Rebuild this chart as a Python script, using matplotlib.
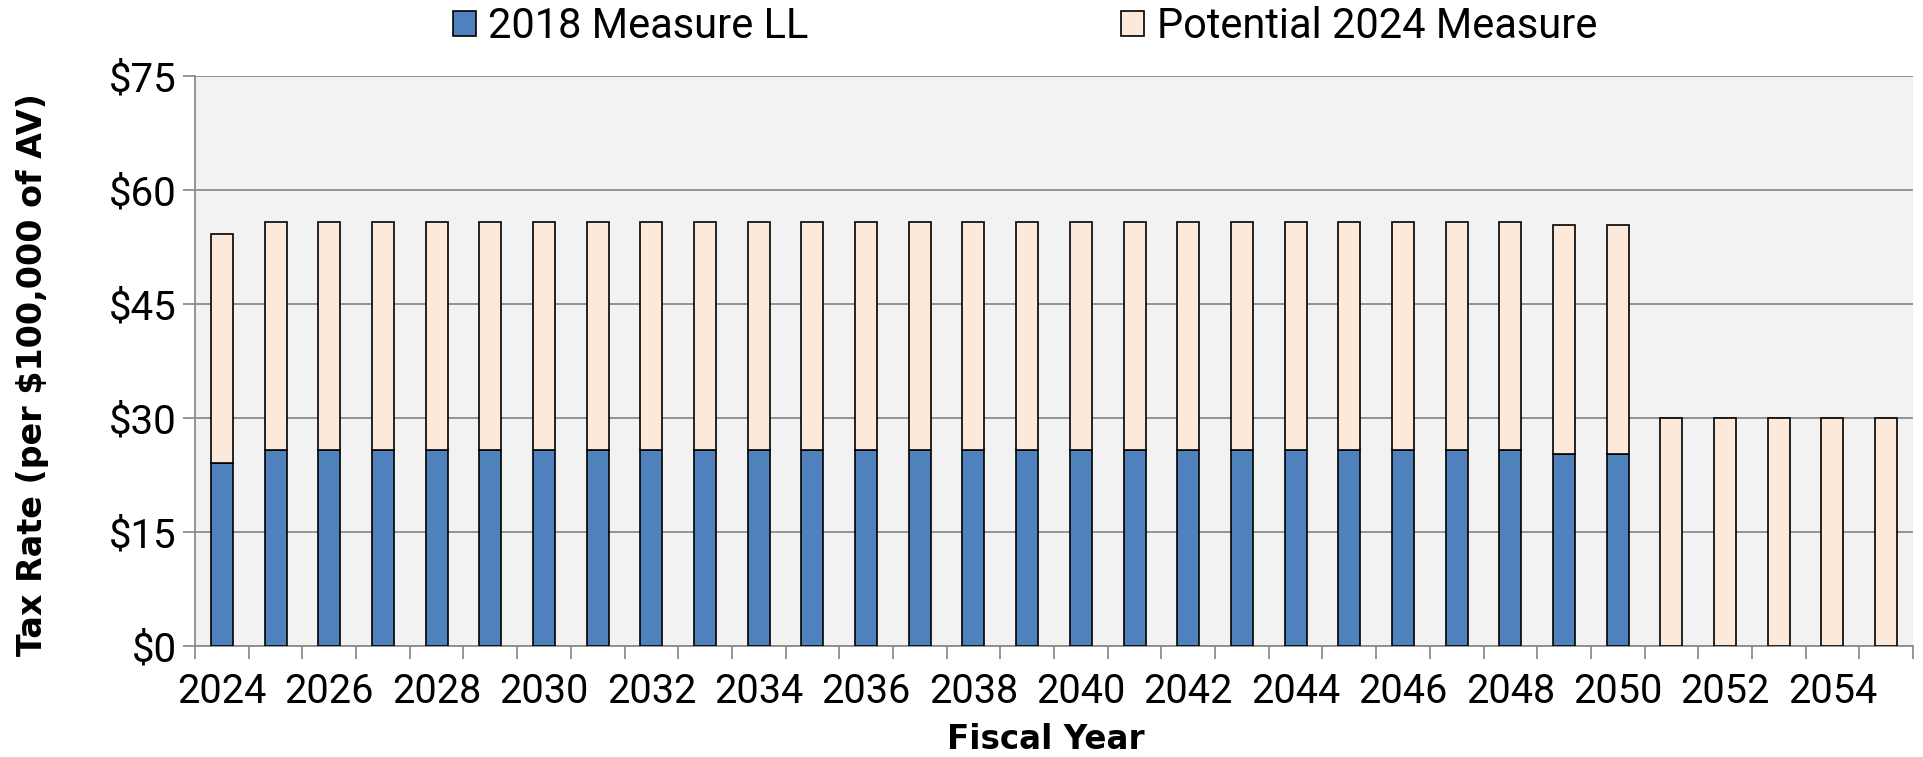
import matplotlib
matplotlib.use("Agg")
import matplotlib.pyplot as plt
from matplotlib.patches import Patch
import numpy as np

# Fiscal years and tax rate components (per $100,000 of assessed value)
years = list(range(2024, 2056))
measure_ll_2018 = [24.1] + [25.8] * 24 + [25.3, 25.3] + [0.0] * 5
potential_2024 = [30.1] + [30.0] * 24 + [30.1, 30.1] + [30.0] * 5
y_ticks = [0, 15, 30, 45, 60, 75]
y_tick_labels = ["$0", "$15", "$30", "$45", "$60", "$75"]

BLUE = "#4f81bd"
PEACH = "#fde9d9"
GRID = "#8c8c8c"
BG = "#f2f2f2"

plt.rcParams["font.family"] = ["Roboto", "DejaVu Sans"]

fig = plt.figure(figsize=(19.23, 7.57), dpi=100)
ax = fig.add_axes([195 / 1923, 1 - 646 / 757, (1913 - 195) / 1923, (646 - 76) / 757])
ax.set_facecolor(BG)

x = np.arange(len(years))
w = 0.41
ax.bar(x, measure_ll_2018, width=w, color=BLUE, edgecolor="black", linewidth=1.2, zorder=3)
ax.bar(x, potential_2024, width=w, bottom=measure_ll_2018, color=PEACH,
       edgecolor="black", linewidth=1.2, zorder=3)

ax.set_xlim(-0.5, len(years) - 0.5)
ax.set_ylim(0, 75)

ax.set_yticks(y_ticks)
ax.set_yticklabels(y_tick_labels)
ax.yaxis.grid(True, color=GRID, linewidth=1.3, zorder=1)
ax.tick_params(axis="y", length=9, width=1.3, color=GRID, labelsize=29, pad=4)

# labels every other year at bar centres, tick marks at category boundaries
ax.set_xticks(x[::2])
ax.set_xticklabels([str(y) for y in years[::2]])
ax.set_xticks(np.arange(-0.5, len(years)), minor=True)
ax.tick_params(axis="x", which="major", length=0, labelsize=28.5, pad=19)
ax.tick_params(axis="x", which="minor", length=9, width=1.3, color=GRID)

for s in ["top", "right"]:
    ax.spines[s].set_visible(False)
for s in ["left", "bottom"]:
    ax.spines[s].set_color(GRID)
    ax.spines[s].set_linewidth(1.3)

ax.set_ylabel("Tax Rate (per $100,000 of AV)", fontsize=24, fontweight="bold",
              family="DejaVu Sans")
ax.yaxis.set_label_coords(-0.085, 0.4754)
ax.set_xlabel("Fiscal Year", fontsize=23.5, fontweight="bold", family="DejaVu Sans")
ax.xaxis.set_label_coords(0.4953, -0.135)

handles = [Patch(facecolor=BLUE, edgecolor="black", linewidth=1.2),
           Patch(facecolor=PEACH, edgecolor="black", linewidth=1.2)]
fig.legend(handles, ["2018 Measure LL", "Potential 2024 Measure"], loc="center",
           bbox_to_anchor=(1025 / 1923, 1 - 27 / 757), ncol=2, frameon=False,
           fontsize=30, handlelength=0.55, handleheight=0.55, handletextpad=0.3,
           columnspacing=7.5, borderpad=0)

fig.savefig("out.png", dpi=100, facecolor="white")
